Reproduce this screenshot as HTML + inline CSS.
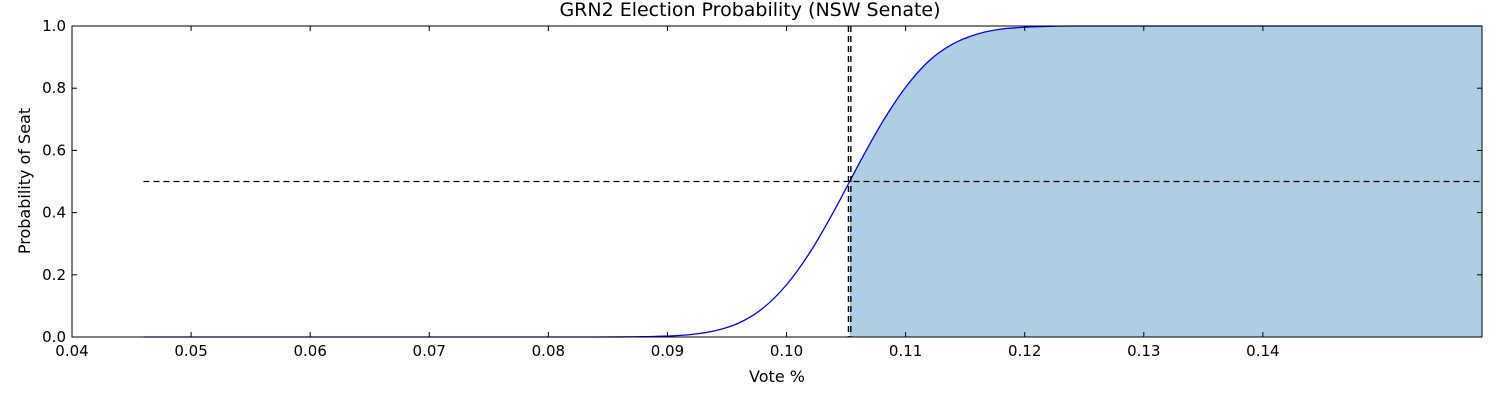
<!DOCTYPE html>
<html><head><meta charset="utf-8"><style>
body{margin:0;background:#fff;}
svg text{font-family:"DejaVu Sans","Liberation Sans",sans-serif;fill:#000;}
</style></head><body>
<svg id="chart" width="1500" height="400" xmlns="http://www.w3.org/2000/svg"></svg>
<script>
const xTicks=[0.04,0.05,0.06,0.07,0.08,0.09,0.10,0.11,0.12,0.13,0.14];
const xTickLabels=["0.04","0.05","0.06","0.07","0.08","0.09","0.10","0.11","0.12","0.13","0.14"];
const yTicks=[0,0.2,0.4,0.6,0.8,1.0];
const yTickLabels=["0.0","0.2","0.4","0.6","0.8","1.0"];
const voteX=[0.046,0.060,0.070,0.080,0.084,0.086,0.088,0.090,0.092,0.094,0.096,0.098,0.100,0.102,0.104,0.1053,0.106,0.108,0.110,0.112,0.114,0.116,0.118,0.120,0.122,0.124,0.130,0.140,0.150,0.1584];
const probY=[0,0,0,0,0,0.0002,0.001,0.003,0.008,0.02,0.045,0.092,0.168,0.274,0.406,0.5,0.551,0.688,0.803,0.889,0.943,0.974,0.990,0.996,0.999,1,1,1,1,1];
const threshold=0.1053;
const halfLine=0.5;
const xMin=0.04,xMax=0.1584,L=72,R=1482,T=26,B=337;
const sx=v=>L+(v-xMin)/(xMax-xMin)*(R-L);
const sy=v=>B-v*(B-T);
const svg=document.getElementById('chart');
const NS="http://www.w3.org/2000/svg";
function add(tag,attrs,parent){const e=document.createElementNS(NS,tag);for(const k in attrs)e.setAttribute(k,attrs[k]);(parent||svg).appendChild(e);return e;}
// monotone cubic (Fritsch-Carlson) path segments
function monoPath(xs,ys,startIdx){
  const n=xs.length,d=[],m=[];
  for(let i=0;i<n-1;i++)d.push((ys[i+1]-ys[i])/(xs[i+1]-xs[i]));
  for(let i=0;i<n;i++){
    if(i===0)m.push(d[0]);else if(i===n-1)m.push(d[n-2]);
    else m.push(d[i-1]*d[i]<=0?0:(d[i-1]+d[i])/2);
  }
  for(let i=0;i<n-1;i++){
    if(d[i]===0){m[i]=0;m[i+1]=0;continue;}
    const a=m[i]/d[i],b=m[i+1]/d[i],s=a*a+b*b;
    if(s>9){const t=3/Math.sqrt(s);m[i]=t*a*d[i];m[i+1]=t*b*d[i];}
  }
  let p='';
  for(let i=startIdx;i<n-1;i++){
    const h=xs[i+1]-xs[i];
    const c1x=xs[i]+h/3,c1y=ys[i]+m[i]*h/3,c2x=xs[i+1]-h/3,c2y=ys[i+1]-m[i+1]*h/3;
    p+=` C${sx(c1x)},${sy(c1y)} ${sx(c2x)},${sy(c2y)} ${sx(xs[i+1])},${sy(ys[i+1])}`;
  }
  return p;
}
const ti0=voteX.indexOf(threshold);
// fill
let fp=`M${sx(threshold)},${sy(0)} L${sx(threshold)},${sy(probY[ti0])}`+monoPath(voteX,probY,ti0)+` L${sx(xMax)},${sy(0)} Z`;
const fill=add('path',{d:fp,fill:'#aecfe3',stroke:'none'});


// curve
let cp=`M${sx(voteX[0])},${sy(probY[0])}`+monoPath(voteX,probY,0);
const curve=add('path',{d:cp,fill:'none',stroke:'#0000ff','stroke-width':1.3});


// dashed lines
const h=add('line',{x1:sx(voteX[0]),x2:R,y1:sy(halfLine),y2:sy(halfLine),stroke:'#000','stroke-dasharray':'6,4','stroke-width':1.2});


[-1.2,1.2].forEach(d=>{const v=add('line',{x1:sx(threshold)+d,x2:sx(threshold)+d,y1:T,y2:B,stroke:'#000','stroke-dasharray':'6,4','stroke-width':1.4});

});
// frame
const fr=add('rect',{x:L,y:T,width:R-L,height:B-T,fill:'none',stroke:'#000','stroke-width':1});


// x ticks
xTicks.forEach((t,i)=>{const x=sx(t);
add('line',{x1:x,x2:x,y1:B,y2:B-5,stroke:'#000'});add('line',{x1:x,x2:x,y1:T,y2:T+5,stroke:'#000'});
const tx=add('text',{x:x,y:B+19,'text-anchor':'middle','font-size':15});tx.textContent=xTickLabels[i];

});
yTicks.forEach((t,i)=>{const y=sy(t);
add('line',{x1:L,x2:L+5,y1:y,y2:y,stroke:'#000'});add('line',{x1:R,x2:R-5,y1:y,y2:y,stroke:'#000'});
const tx=add('text',{x:L-6,y:y+5,'text-anchor':'end','font-size':15});tx.textContent=yTickLabels[i];

});
const ti=add('text',{x:750,y:16,'text-anchor':'middle','font-size':19});ti.textContent='GRN2 Election Probability (NSW Senate)';


const xl=add('text',{x:777,y:382,'text-anchor':'middle','font-size':16});xl.textContent='Vote %';


const yl=add('text',{x:30,y:181,'text-anchor':'middle','font-size':16,transform:'rotate(-90 30 181)'});yl.textContent='Probability of Seat';


</script>
</body></html>
